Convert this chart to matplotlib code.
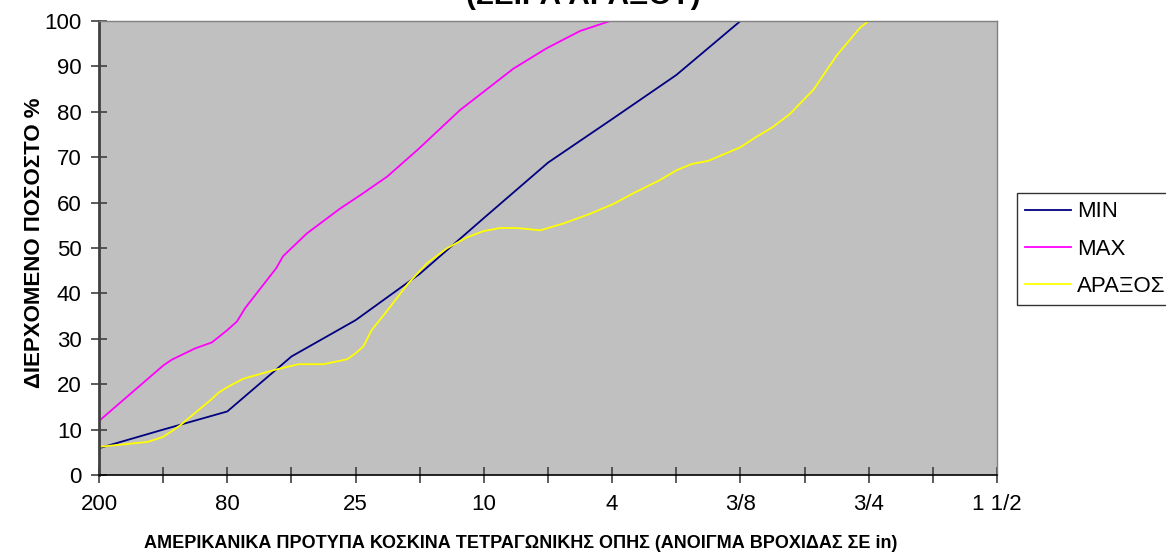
import numpy as np
import matplotlib
matplotlib.use('Agg')
from matplotlib import pyplot as plt

plt.rcParams['font.family'] = ['Liberation Sans', 'DejaVu Sans']

# sieve openings (every other category carries a label)
tick_pos = [0, 2, 4, 6, 8, 10, 12, 14]
tick_labels = ['200', '80', '25', '10', '4', '3/8', '3/4', '1 1/2']
minor_pos = [1, 3, 5, 7, 9, 11, 13]

# passing percentage, positions along the sieve axis
min_x = [0, 1, 2, 3, 4, 5, 6, 7, 8, 9, 10, 13]
min_y = [5.9, 10.0, 14.0, 26.1, 34.1, 44.3, 56.6, 68.8, 78.4, 88.1, 100, 100]

max_x = [0, 1.0, 1.135, 1.5, 1.76, 1.99, 2.15, 2.28, 2.76, 2.87, 3.24, 3.76,
         4.07, 4.49, 4.98, 5.63, 6.46, 6.98, 7.5, 7.97, 13]
max_y = [11.9, 24.1, 25.4, 27.9, 29.2, 31.8, 33.8, 36.8, 45.5, 48.2, 53.2, 58.7,
         61.6, 65.7, 71.8, 80.4, 89.5, 94.0, 97.8, 100, 100]

araxos_x = [0, 0.76, 1.0, 1.14, 1.27, 1.73, 1.87, 2.02, 2.25, 2.75, 3.11, 3.5,
            3.87, 4.0, 4.12, 4.25, 4.46, 4.82, 5.11, 5.42, 5.73, 5.99, 6.25,
            6.51, 6.88, 7.24, 7.65, 8.02, 8.35, 8.75, 9.0, 9.24, 9.5, 10.0,
            10.25, 10.5, 10.77, 11.14, 11.5, 11.87, 12.0, 13]
araxos_y = [6.2, 7.3, 8.4, 9.7, 11.0, 16.4, 18.2, 19.5, 21.2, 23.2, 24.4, 24.4,
            25.5, 26.8, 28.3, 31.9, 35.6, 42.2, 46.6, 49.9, 52.3, 53.7, 54.4,
            54.4, 53.9, 55.4, 57.5, 59.7, 62.2, 65.0, 67.1, 68.5, 69.2, 72.2,
            74.5, 76.6, 79.5, 84.9, 92.4, 98.6, 100, 100]

fig = plt.figure(figsize=(11.66, 5.53), dpi=100)
ax = fig.add_axes([99 / 1166, 1 - 475 / 553, 898 / 1166, 454 / 553])
ax.set_facecolor('#C0C0C0')

ax.plot(min_x, min_y, color='#000080', lw=1.3, label='MIN')
ax.plot(max_x, max_y, color='#FF00FF', lw=1.3, label='MAX')
ax.plot(araxos_x, araxos_y, color='#FFFF00', lw=1.3, label='ΑΡΑΞΟΣ')

ax.set_xlim(0, 14)
ax.set_ylim(0, 100)
ax.set_yticks(np.arange(0, 101, 10))
ax.set_xticks(tick_pos)
ax.set_xticklabels(tick_labels)
ax.set_xticks(minor_pos, minor=True)

ax.tick_params(axis='both', which='both', direction='inout', length=11,
               width=1.2, colors='#404040', labelcolor='black', labelsize=16)
ax.tick_params(axis='x', pad=8)
ax.tick_params(axis='y', pad=7)

for side in ['top', 'right']:
    ax.spines[side].set_color('#808080')
    ax.spines[side].set_linewidth(1.0)
ax.spines['left'].set_color('#404040')
ax.spines['left'].set_linewidth(2.0)
ax.spines['bottom'].set_color('black')
ax.spines['bottom'].set_linewidth(1.2)

fig.text(35 / 1166, 1 - 243 / 553, 'ΔΙΕΡΧΟΜΕΝΟ ΠΟΣΟΣΤΟ %', rotation=90,
         ha='center', va='center', fontsize=16, fontweight='bold')
fig.text(521 / 1166, 1 - 543 / 553,
         'ΑΜΕΡΙΚΑΝΙΚΑ ΠΡΟΤΥΠΑ ΚΟΣΚΙΝΑ ΤΕΤΡΑΓΩΝΙΚΗΣ ΟΠΗΣ (ΑΝΟΙΓΜΑ ΒΡΟΧΙΔΑΣ ΣΕ in)',
         ha='center', va='center', fontsize=13, fontweight='bold')
# chart title sits partly above the top edge
fig.text(583 / 1166, 1 - 3.5 / 553, '(ΣΕΙΡΑ ΑΡΑΞΟΥ)', ha='center', va='baseline',
         fontsize=21.5, fontweight='bold')

leg = fig.legend(loc='upper left', bbox_to_anchor=(1017 / 1166, 1 - 193 / 553),
                 borderaxespad=0, fancybox=False, frameon=True, fontsize=16,
                 handlelength=2.07, handletextpad=0.27, labelspacing=0.73,
                 borderpad=0.38)
leg.get_frame().set_edgecolor('black')
leg.get_frame().set_linewidth(1.0)

fig.savefig('out.png', dpi=100)
